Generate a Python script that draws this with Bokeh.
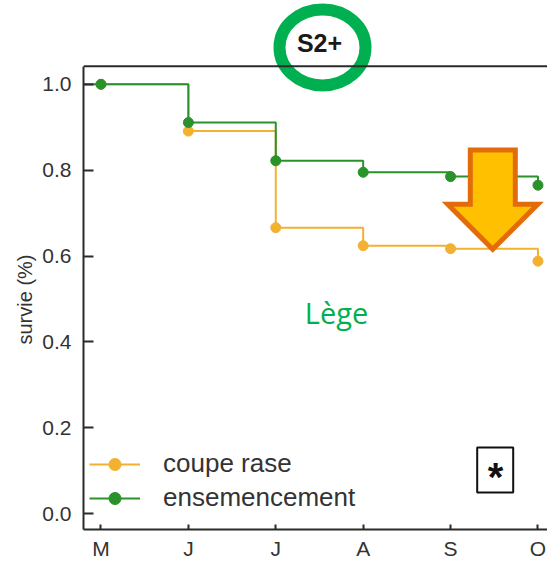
from bokeh.plotting import figure
from bokeh.models import Range1d, FixedTicker, Span, Legend, LegendItem, Title
from bokeh.core.properties import value
from bokeh.embed import file_html
from bokeh.resources import INLINE

# ---- data ----
month_labels = ["M", "J", "J", "A", "S", "O"]
month_pos = [0, 1, 2, 3, 4, 5]
coupe_rase = [1.0, 0.891, 0.666, 0.624, 0.617, 0.588]
ensemencement = [1.0, 0.911, 0.822, 0.795, 0.785, 0.765]
y_ticks = [0.0, 0.2, 0.4, 0.6, 0.8, 1.0]
series_names = ["coupe rase", "ensemencement"]
panel_title = "S2+"
site_label = "Lège"
signif_label = "*"
y_label = "survie (%)"

# ---- layout ----
W, H = 547, 562
ML, MB = 83, 32
X0, X1 = -0.2, 5.109
Y0, Y1 = -0.0372, 1.1953
TOP_SPINE = 1.0419

ORANGE = "#F2B230"
GREEN = "#2A922A"
OFFICE_GREEN = "#00B050"
AX = "#2b2b2b"
TXT = "#333333"
FONT = "Liberation Sans"


def px_x(px):
    # picture pixel -> data x
    return X0 + (px - ML) * (X1 - X0) / (W - ML)


def px_y(py):
    # picture pixel -> data y
    return Y1 - py * (Y1 - Y0) / (H - MB)


p = figure(width=W, height=H, output_backend="svg", toolbar_location=None,
           x_range=Range1d(X0, X1), y_range=Range1d(Y0, Y1),
           min_border_left=ML, min_border_right=0, min_border_top=0,
           min_border_bottom=MB)
p.outline_line_color = None
p.xgrid.visible = False
p.ygrid.visible = False
p.background_fill_color = "white"
p.border_fill_color = "white"

# axes
p.xaxis.ticker = FixedTicker(ticks=month_pos)
p.xaxis.major_label_overrides = {i: lab for i, lab in zip(month_pos, month_labels)}
p.yaxis.ticker = FixedTicker(ticks=y_ticks)
p.yaxis.major_label_overrides = {v: f"{v:.1f}" for v in y_ticks}
p.yaxis.bounds = (Y0, TOP_SPINE)
for ax in (p.xaxis, p.yaxis):
    ax.axis_line_color = AX
    ax.axis_line_width = 2
    ax.major_tick_line_color = AX
    ax.major_tick_line_width = 2
    ax.minor_tick_line_color = None
    ax.major_tick_out = 0
    ax.major_label_text_font = FONT
    ax.major_label_text_font_size = "21px"
    ax.major_label_text_color = TXT
p.yaxis.major_tick_in = 10
p.xaxis.major_tick_in = 5
p.yaxis.major_label_standoff = 12
p.xaxis.major_label_standoff = 7

# y axis label, centred on the drawn part of the axis (not the whole frame)
p.add_layout(Title(text=y_label, align="left", offset=185, standoff=8,
                   text_font=FONT, text_font_size="20px", text_font_style="normal",
                   text_color=TXT), "left")

# top spine
p.add_layout(Span(location=TOP_SPINE, dimension="width", line_color=AX, line_width=2))

# series
xs = [X0] + month_pos
o_line = p.step(xs, [coupe_rase[0]] + coupe_rase, mode="after", line_color=ORANGE, line_width=2)
o_pts = p.scatter(month_pos, coupe_rase, size=10, color=ORANGE)
g_line = p.step(xs, [ensemencement[0]] + ensemencement, mode="after", line_color=GREEN, line_width=2)
g_pts = p.scatter(month_pos, ensemencement, size=10, color=GREEN)

legend = Legend(items=[LegendItem(label=series_names[0], renderers=[o_line, o_pts]),
                       LegendItem(label=series_names[1], renderers=[g_line, g_pts])],
                location=(6, 16), glyph_width=51, glyph_height=30, label_height=30,
                label_standoff=23, spacing=3, padding=0, margin=0,
                border_line_color=None, background_fill_alpha=0,
                label_text_font=FONT, label_text_font_size="26px", label_text_color=TXT)
p.add_layout(legend)

# title with ring
p.text(x=[px_x(319)], y=[px_y(43)], text=[panel_title], text_font=value(FONT),
       text_font_size="25px", text_font_style="bold", text_color="#1a1a1a",
       text_align="center", text_baseline="middle")
p.ellipse(x=[px_x(322)], y=[px_y(47)], width=86, height=76, width_units="screen",
          height_units="screen", fill_color=None, line_color=OFFICE_GREEN, line_width=12)

# site label
p.text(x=[px_x(336)], y=[px_y(313)], text=[site_label], text_font=value("Open Sans"),
       text_font_size="29px", text_color=OFFICE_GREEN, text_align="center",
       text_baseline="middle")

# significance box
p.rect(x=[px_x(494.7)], y=[px_y(470.3)], width=36, height=45, width_units="screen",
       height_units="screen", fill_color="white", line_color="#111111", line_width=2)
p.text(x=[px_x(495)], y=[px_y(477)], text=[signif_label], text_font=value(FONT),
       text_font_size="40px", text_font_style="bold", text_color="#111111",
       text_align="center", text_baseline="middle")

# down arrow
arrow_px_x = [469.8, 514.8, 514.8, 537.3, 492.2, 447.2, 469.8]
arrow_px_y = [149.8, 149.8, 204.2, 204.2, 249.2, 204.2, 204.2]
p.patch([px_x(v) for v in arrow_px_x], [px_y(v) for v in arrow_px_y],
        fill_color="#FFC000", line_color="#E36C0A", line_width=5, line_join="miter")

open("out.html", "w").write(file_html(p, INLINE))
